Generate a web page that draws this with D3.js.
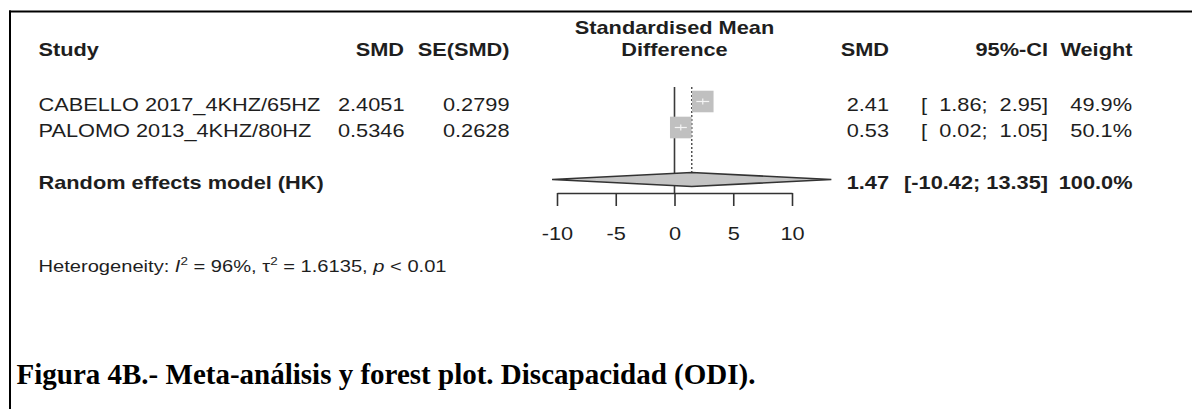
<!DOCTYPE html>
<html>
<head>
<meta charset="utf-8">
<script src="https://cdn.jsdelivr.net/npm/d3@7"></script>
<style>
  html, body { margin: 0; padding: 0; background: #fff; }
  svg { display: block; }
  text { white-space: pre; }
</style>
</head>
<body>
<svg id="chart" width="1192" height="409"></svg>
<script>
// ---- data ----
const studies   = ["CABELLO 2017_4KHZ/65HZ", "PALOMO 2013_4KHZ/80HZ"];
const smd       = [2.4051, 0.5346];
const seSmd     = [0.2799, 0.2628];
const ciLower   = [1.86, 0.02];
const ciUpper   = [2.95, 1.05];
const weights   = [49.9, 50.1];
const pooledLabel = "Random effects model (HK)";
const pooledEst   = 1.47;
const pooledLower = -10.42;
const pooledUpper = 13.35;
const pooledWeight = 100.0;
const xTicks    = [-10, -5, 0, 5, 10];
const heterogeneity = { i2: "96%", tau2: "1.6135", p: "0.01" };
const caption = "Figura 4B.- Meta-análisis y forest plot. Discapacidad (ODI).";

// ---- layout ----
const svg = d3.select("#chart");
const SX = 1.17;            // horizontal stretch of the original picture
const FS = 18.6;            // font size
const ink = "#1e1e1e";
const x = d3.scaleLinear().domain([-10, 10]).range([557, 792]);
const rowY = d3.scaleLinear().domain([0, 3]).range([101.5, 179.5]);
const sizeScale = d3.scaleSqrt().domain([0, 50]).range([0, 21.6]);
const axisY = 193;
const fmt2 = d3.format(".2f"), fmt4 = d3.format(".4f"), fmt1 = d3.format(".1f");
const hyph = s => s.replace(/\u2212/g, "-");

function txt(g, str, tx, ty, opts = {}) {
  return g.append("text")
    .attr("transform", `translate(${tx},${ty}) scale(${opts.sx || SX},1)`)
    .attr("text-anchor", opts.anchor || "start")
    .attr("font-family", opts.family || "'Liberation Sans', Arial, sans-serif")
    .attr("font-size", opts.size || FS)
    .attr("font-weight", opts.bold ? "bold" : "normal")
    .attr("fill", opts.fill || ink)
    .text(hyph(str));
}

// frame (top and left edges of the embedded picture)
svg.append("line").attr("x1", 9).attr("x2", 1192).attr("y1", 11.5).attr("y2", 11.5)
  .attr("stroke", "#000").attr("stroke-width", 2);
svg.append("line").attr("x1", 10).attr("x2", 10).attr("y1", 10.5).attr("y2", 409)
  .attr("stroke", "#000").attr("stroke-width", 2);

const g = svg.append("g");

// headers
const hdrY = 56;
txt(g, "Study", 38.5, hdrY, { bold: true });
txt(g, "SMD", 404, hdrY, { bold: true, anchor: "end" });
txt(g, "SE(SMD)", 509.5, hdrY, { bold: true, anchor: "end" });
txt(g, "Standardised Mean", x(0), 34, { bold: true, anchor: "middle" });
txt(g, "Difference", x(0), hdrY, { bold: true, anchor: "middle" });
txt(g, "SMD", 889, hdrY, { bold: true, anchor: "end" });
txt(g, "95%-CI", 1048, hdrY, { bold: true, anchor: "end" });
txt(g, "Weight", 1132.5, hdrY, { bold: true, anchor: "end" });

// study rows
studies.forEach((s, i) => {
  const by = rowY(i) + 9;
  txt(g, s, 38.5, by);
  txt(g, fmt4(smd[i]), 404.5, by, { anchor: "end" });
  txt(g, fmt4(seSmd[i]), 509.5, by, { anchor: "end" });
  txt(g, fmt2(smd[i]), 889, by, { anchor: "end" });
  txt(g, `[  ${fmt2(ciLower[i])};  ${fmt2(ciUpper[i])}]`, 1048, by, { anchor: "end" });
  txt(g, fmt1(weights[i]) + "%", 1132, by, { anchor: "end" });
});

// pooled row text
const py = rowY(3) + 9.5;
txt(g, pooledLabel, 38.5, py, { bold: true });
txt(g, fmt2(pooledEst), 889, py, { bold: true, anchor: "end" });
txt(g, `[${fmt2(pooledLower)}; ${fmt2(pooledUpper)}]`, 1048, py, { bold: true, anchor: "end" });
txt(g, fmt1(pooledWeight) + "%", 1132.5, py, { bold: true, anchor: "end" });

// plot: reference line at 0
const topY = 87;
g.append("line").attr("x1", x(0)).attr("x2", x(0)).attr("y1", topY).attr("y2", axisY)
  .attr("stroke", "#3a3a3a").attr("stroke-width", 1.6);
// pooled estimate dotted line
g.append("line").attr("x1", x(pooledEst)).attr("x2", x(pooledEst)).attr("y1", topY).attr("y2", rowY(3) - 6)
  .attr("stroke", "#3a3a3a").attr("stroke-width", 1.3).attr("stroke-dasharray", "2,2");

// squares + CIs
studies.forEach((s, i) => {
  const cx = x(smd[i]), cy = rowY(i), sz = sizeScale(weights[i]);
  g.append("rect").attr("x", cx - sz / 2).attr("y", cy - sz / 2)
    .attr("width", sz).attr("height", sz).attr("fill", "#c0c0c0");
  g.append("line").attr("x1", x(ciLower[i])).attr("x2", x(ciUpper[i]))
    .attr("y1", cy).attr("y2", cy).attr("stroke", "#f4f4f4").attr("stroke-width", 1.2);
  g.append("line").attr("x1", cx).attr("x2", cx).attr("y1", cy - 3).attr("y2", cy + 3)
    .attr("stroke", "#f4f4f4").attr("stroke-width", 1.2);
});

// diamond
const dy = rowY(3), dh = 7;
g.append("path")
  .attr("d", `M${x(pooledLower)},${dy} L${x(pooledEst)},${dy - dh} L${x(pooledUpper)},${dy} L${x(pooledEst)},${dy + dh} Z`)
  .attr("fill", "#c4c4c4").attr("stroke", "#333").attr("stroke-width", 1.6)
  .attr("stroke-linejoin", "miter");

// axis
const axis = d3.axisBottom(x).tickValues(xTicks).tickSize(13).tickSizeOuter(0)
  .tickFormat(d => String(d));
const ag = g.append("g").attr("transform", `translate(0,${axisY})`).call(axis);
ag.select(".domain").attr("stroke", "#333").attr("stroke-width", 1.6);
ag.selectAll(".tick line").attr("stroke", "#333").attr("stroke-width", 1.6);
ag.selectAll(".tick text")
  .attr("y", 0).attr("dy", 0)
  .attr("transform", `translate(0,47) scale(${SX},1)`)
  .attr("font-family", "'Liberation Sans', Arial, sans-serif")
  .attr("font-size", FS).attr("fill", ink);

// heterogeneity
const ht = g.append("text")
  .attr("transform", `translate(38.5,272) scale(${SX},1)`)
  .attr("font-family", "'Liberation Sans', Arial, sans-serif")
  .attr("font-size", 17.2).attr("fill", ink);
ht.append("tspan").text("Heterogeneity: ");
ht.append("tspan").attr("font-style", "italic").text("I");
ht.append("tspan").attr("font-size", 11.5).attr("dy", -7).text("2");
ht.append("tspan").attr("dy", 7).text(` = ${heterogeneity.i2}, τ`);
ht.append("tspan").attr("font-size", 11.5).attr("dy", -7).text("2");
ht.append("tspan").attr("dy", 7).text(` = ${heterogeneity.tau2}, `);
ht.append("tspan").attr("font-style", "italic").text("p");
ht.append("tspan").text(` < ${heterogeneity.p}`);

// caption
svg.append("text")
  .attr("x", 16.5).attr("y", 384)
  .attr("font-family", "'Liberation Serif', 'Times New Roman', serif")
  .attr("font-weight", "bold").attr("font-size", 29).attr("fill", "#000")
  .text(caption);
</script>
</body>
</html>
